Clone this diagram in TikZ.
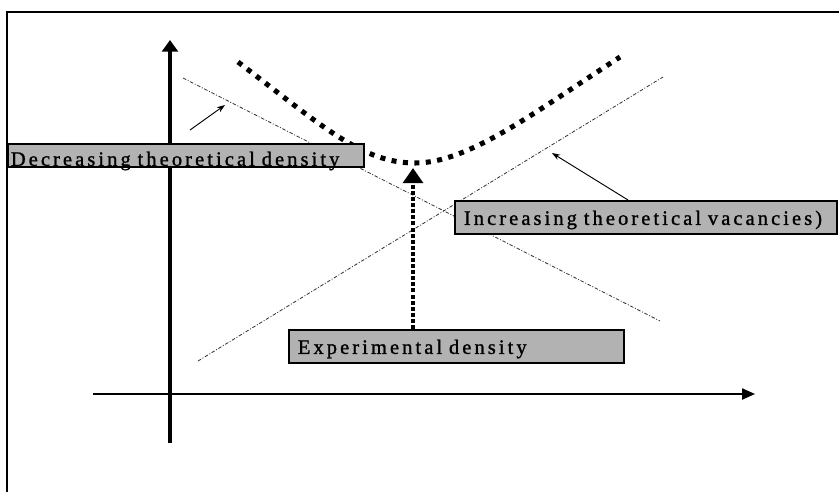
\documentclass[tikz,border=0pt]{standalone}
\usepackage{fontspec}
\newfontfamily\boxfont[LetterSpace=15, FakeBold=1.2]{Liberation Serif}
\usetikzlibrary{arrows.meta}

\begin{document}
\begin{tikzpicture}[
    x=0.03cm, y=-0.03cm,
    frame/.style={line width=1.7pt},
    axis/.style={line width=3.4pt, -{Triangle[length=10pt, width=13.6pt]}},
    haxis/.style={line width=1.7pt, -{Triangle[length=11pt, width=9.4pt]}},
    trend/.style={line width=0.7pt, black!80, dash pattern=on 3pt off 1.5pt on 0.8pt off 1.5pt},
    curve/.style={line width=4.3pt, dash pattern=on 4.3pt off 5.5pt},
    exparrow/.style={line width=4pt, dash pattern=on 3.4pt off 1.8pt, -{Triangle[length=13pt, width=17pt]}},
    pointer/.style={line width=0.8pt, -{Stealth[length=7pt, width=5pt]}},
    label box/.style={draw=black, line width=1.5pt, fill=black!30, anchor=north west,
        inner xsep=0.27cm, inner ysep=0pt, align=left,
        font=\boxfont\fontsize{17.5}{19}\selectfont}
]
    \useasboundingbox (0,0) rectangle (839,492);

    % frame
    \draw[frame] (7,492) |- (839,12);

    % axes
    \coordinate (ybot) at (170,443);
    \coordinate (ytop) at (170,40);
    \coordinate (xleft) at (93,394);
    \coordinate (xright) at (755,394);
    \draw[axis] (ybot) -- (ytop);
    \draw[haxis] (xleft) -- (xright);

    % theoretical lines
    \draw[trend] (183,78) -- (660,321);
    \draw[trend] (198,361) -- (663,77);

    % experimental curve
    \draw[curve] (238,62) .. controls (322,126) and (362,163) .. (415,163)
        .. controls (468,163) and (532,114) .. (620,57);

    % labels
    \node[label box, inner xsep=0.09cm, text width=10.5cm, text height=0.66cm, text depth=0.03cm]
        (dec) at (7,143) {\mbox{Decreasing theoretical density}};
    \node[label box, text width=10.92cm, text height=0.72cm, text depth=0.27cm]
        (inc) at (454,200) {\mbox{Increasing theoretical vacancies)}};
    \node[label box, text width=9.51cm, text height=0.72cm, text depth=0.27cm]
        (exp) at (288,329) {\mbox{Experimental density}};

    \coordinate (expTip) at (413,168);
    \draw[exparrow] (exp.north -| expTip) -- (expTip);

    \coordinate (decFrom) at (190,130);
    \coordinate (decTip) at (225,105);
    \draw[pointer] (decFrom) -- (decTip);

    \coordinate (incFrom) at (628,200);
    \coordinate (incTip) at (552,153);
    \draw[pointer] (incFrom) -- (incTip);
\end{tikzpicture}
\end{document}
